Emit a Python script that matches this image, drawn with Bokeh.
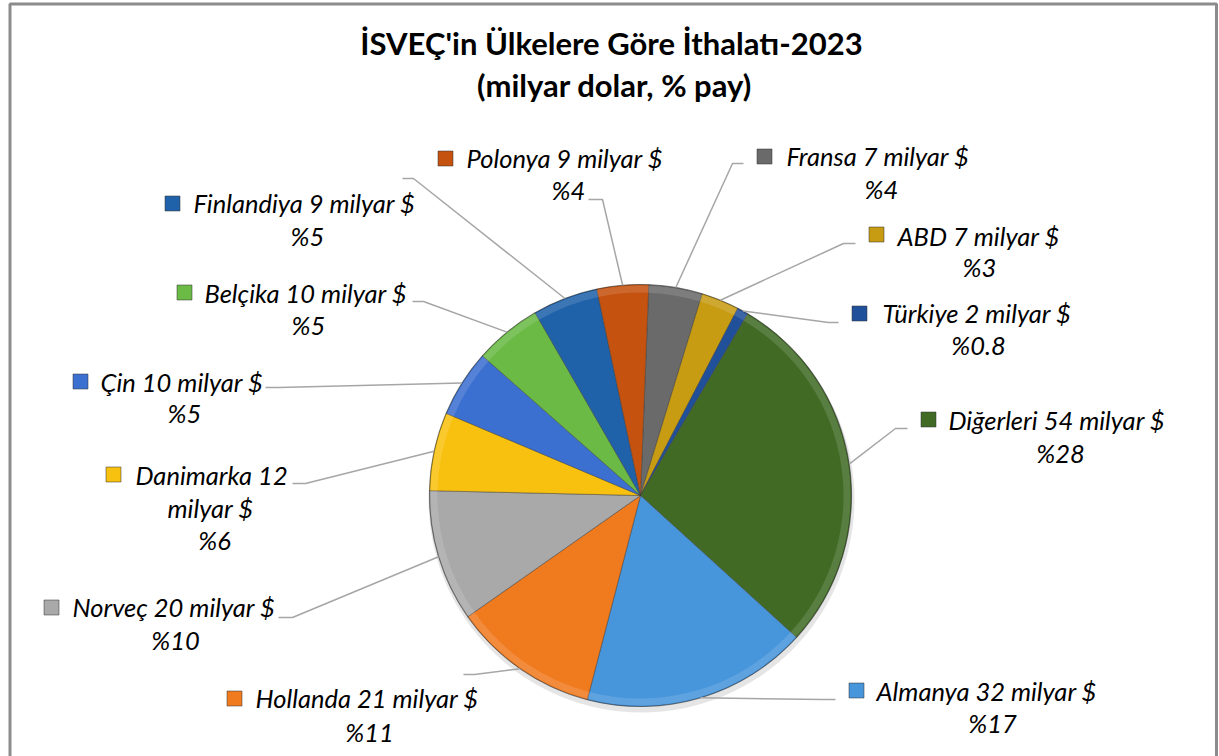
import numpy as np
from bokeh.plotting import figure
from bokeh.models import Range1d, ColumnDataSource
from bokeh.core.properties import value
from bokeh.embed import file_html
from bokeh.resources import INLINE

# ---------------- data (clockwise from top) ----------------
countries = ["Fransa", "ABD", "Türkiye", "Diğerleri", "Almanya", "Hollanda",
             "Norveç", "Danimarka", "Çin", "Belçika", "Finlandiya", "Polonya"]
import_bn = [7, 7, 2, 54, 32, 21, 20, 12, 10, 10, 9, 9]          # milyar $
share_label = ["4", "3", "0.8", "28", "17", "11", "10", "6", "5", "5", "5", "4"]
share_est = [4.1, 2.9, 0.86, 28.25, 17.3, 11.2, 10.1, 6.0, 5.15, 5.15, 5.0, 3.95]
colors = ["#6a6a6a", "#c79b12", "#21509a", "#416b25", "#4795db", "#f07a1e",
          "#a9a9a9", "#f8c10f", "#3c70d0", "#6aba45", "#1f62aa", "#c5520f"]

title_lines = ["İSVEÇ'in Ülkelere Göre İthalatı-2023", "(milyar dolar, % pay)"]

# ---------------- layout (screen pixel positions) ----------------
W, H = 1219, 756
def px(X):
    return X
def py(Y):
    return H - Y

CX, CY, R = 640, 495, 211
START = 2.25  # degrees clockwise from 12 o'clock

# marker center, text-left x, line-1 y, pct center, leader start points
layout = {
    "Fransa":     dict(mk=(764, 156), tx=786, ty=155, pc=(881, 188), ld=[(743, 163), (732, 163)]),
    "ABD":        dict(mk=(876, 234), tx=897, ty=235, pc=(979, 266), ld=[(855, 243), (843, 243)]),
    "Türkiye":    dict(mk=(859, 313), tx=882, ty=312, pc=(978, 344), ld=[(838, 322), (828, 322)]),
    "Diğerleri":  dict(mk=(928, 419), tx=948, ty=419, pc=(1060, 452), ld=[(907, 428), (895, 428)]),
    "Almanya":    dict(mk=(856, 690), tx=876, ty=690, pc=(992, 722), ld=[(835, 699), (823, 699)]),
    "Hollanda":   dict(mk=(234, 698), tx=255, ty=697, pc=(369, 731), ld=[(463, 674), (474, 674)]),
    "Norveç":     dict(mk=(51, 607), tx=72, ty=606, pc=(175, 639), ld=[(278, 617), (292, 617)]),
    "Danimarka":  dict(mk=(113, 474), tx=135, ty=474, pc=(214, 539), ld=[(292, 483), (305, 483)],
                       wrap=(210, 507)),
    "Çin":        dict(mk=(80, 381), tx=100, ty=381, pc=(184, 412), ld=[(265, 387), (278, 387)]),
    "Belçika":    dict(mk=(184, 292), tx=204, ty=292, pc=(308, 324), ld=[(412, 301), (423, 301)]),
    "Finlandiya": dict(mk=(172, 203), tx=193, ty=202, pc=(307, 235), ld=[(402, 178), (413, 178)]),
    "Polonya":    dict(mk=(445, 158), tx=466, ty=157, pc=(568, 189), ld=[(588, 199), (602, 199)]),
}

FONT = "Lato"
LABEL_SIZE = "25.5px"
TITLE_SIZE = "31px"

# ---------------- geometry of slices ----------------
shares = np.array(share_est, dtype=float)
cum = np.concatenate([[0.0], np.cumsum(shares / shares.sum())]) * 360.0 + START
th1, th2 = cum[:-1], cum[1:]
mid = (th1 + th2) / 2
start_ang = np.radians(90 - th2)
end_ang = np.radians(90 - th1)

cx, cy = px(CX), py(CY)
slices = ColumnDataSource(dict(
    x=[cx] * len(countries), y=[cy] * len(countries),
    start=start_ang, end=end_ang, color=colors, name=countries,
))

p = figure(width=W, height=H, x_range=Range1d(0, W), y_range=Range1d(0, H),
           output_backend="svg", toolbar_location=None,
           x_axis_type=None, y_axis_type=None, min_border=0)
p.background_fill_color = "white"
p.border_fill_color = "white"
p.outline_line_color = None
p.xgrid.grid_line_color = None
p.ygrid.grid_line_color = None

# soft shadow
p.circle(x=[cx + 1], y=[cy - 4], radius=R + 2, fill_color="#000000", fill_alpha=0.10, line_color=None)

# slices
p.wedge(x="x", y="y", radius=R, start_angle="start", end_angle="end",
        direction="anticlock", fill_color="color", line_color="#3a3a3a",
        line_alpha=0.45, line_width=1, source=slices)
# bevel rim highlight
p.annular_wedge(x="x", y="y", inner_radius=R - 8, outer_radius=R - 1,
                start_angle="start", end_angle="end", direction="anticlock",
                fill_color="white", fill_alpha=0.13, line_color=None, source=slices)
p.circle(x=[cx], y=[cy], radius=R, fill_color=None, line_color="#000000",
         line_alpha=0.25, line_width=1.2)

# leader lines
lx, ly = [], []
for i, c in enumerate(countries):
    L = layout[c]
    rimx = cx + R * np.sin(np.radians(mid[i]))
    rimy = cy + R * np.cos(np.radians(mid[i]))
    lx.append([px(a) for a, b in L["ld"]] + [rimx])
    ly.append([py(b) for a, b in L["ld"]] + [rimy])
p.multi_line(xs=lx, ys=ly, line_color="#a6a6a6", line_width=1.5)

# legend-key markers
mk = ColumnDataSource(dict(
    x=[px(layout[c]["mk"][0]) for c in countries],
    y=[py(layout[c]["mk"][1]) for c in countries],
    color=colors,
))
p.scatter(x="x", y="y", marker="square", size=15, fill_color="color",
          line_color="#303030", line_alpha=0.5, line_width=1, source=mk)

# label texts
tx, ty, tt, ta = [], [], [], []
for i, c in enumerate(countries):
    L = layout[c]
    if "wrap" in L:
        tx.append(px(L["tx"])); ty.append(py(L["ty"])); tt.append(f"{c} {import_bn[i]}"); ta.append("left")
        tx.append(px(L["wrap"][0])); ty.append(py(L["wrap"][1])); tt.append("milyar $"); ta.append("center")
    else:
        tx.append(px(L["tx"])); ty.append(py(L["ty"])); tt.append(f"{c} {import_bn[i]} milyar $"); ta.append("left")
    tx.append(px(L["pc"][0])); ty.append(py(L["pc"][1])); tt.append(f"%{share_label[i]}"); ta.append("center")
lab = ColumnDataSource(dict(x=tx, y=ty, text=tt, align=ta))
p.text(x="x", y="y", text="text", text_align="align", text_baseline="middle",
       text_font=value(FONT), text_font_style="italic", text_font_size=LABEL_SIZE,
       text_color="#000000", source=lab)

# title
p.text(x=[px(611), px(614)], y=[py(42), py(84)], text=title_lines,
       text_align="center", text_baseline="middle", text_font=value(FONT),
       text_font_style="bold", text_font_size=TITLE_SIZE, text_color="#000000")

# frame border (left, top, right)
p.line(x=[9.5, 9.5, 1216, 1216], y=[0, H - 3.5, H - 3.5, 0],
       line_color="#8c8c8c", line_width=3)

open("out.html", "w").write(file_html(p, INLINE))
